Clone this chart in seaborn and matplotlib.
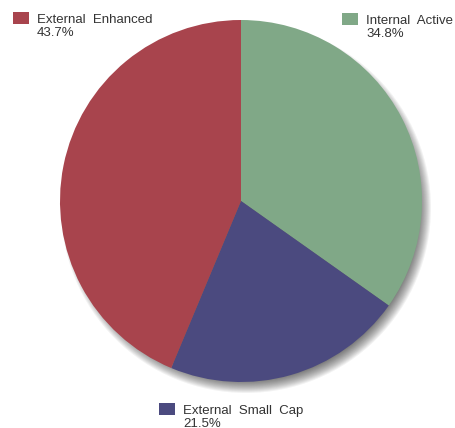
import matplotlib
matplotlib.use("Agg")
import matplotlib.pyplot as plt
from matplotlib.patches import Circle, Rectangle
import seaborn as sns

# Portfolio split, drawn clockwise from 12 o'clock
labels = ["Internal  Active", "External  Small  Cap", "External  Enhanced"]
shares = [34.8, 21.5, 43.7]
colors = ["#80A887", "#4B4A7F", "#A8444D"]

sns.set_theme(style="white")
plt.rcParams["font.family"] = ["Liberation Sans", "DejaVu Sans"]

W, H = 456, 428
fig = plt.figure(figsize=(W / 100, H / 100), dpi=100)
ax = fig.add_axes([0, 0, 1, 1])

cx, cy, r = 241, H - 201, 181

# soft drop shadow towards the lower right
for i in range(16):
    ax.add_patch(Circle((cx + 5, cy - 7), r + 4 - i, color="black",
                        alpha=0.05, lw=0, zorder=1))

ax.pie(shares, colors=colors, startangle=90, counterclock=False,
       center=(cx, cy), radius=r, frame=True,
       wedgeprops=dict(linewidth=0, zorder=2))
ax.set_xlim(0, W)
ax.set_ylim(0, H)
ax.axis("off")

# legend entries: colour box, label, percentage underneath
positions = [(342, 13), (159, 403), (13, 12)]
for (x, y), lab, val, col in zip(positions, labels, shares, colors):
    ax.add_patch(Rectangle((x, H - y - 12), 16, 12, color=col, lw=0, zorder=3))
    ax.text(x + 24, H - y - 8, lab, fontsize=9.5, color="#333333",
            va="center", ha="left")
    ax.text(x + 24, H - y - 21, f"{val}%", fontsize=9.5, color="#333333",
            va="center", ha="left")

fig.savefig("out.png", dpi=100, facecolor="white")
